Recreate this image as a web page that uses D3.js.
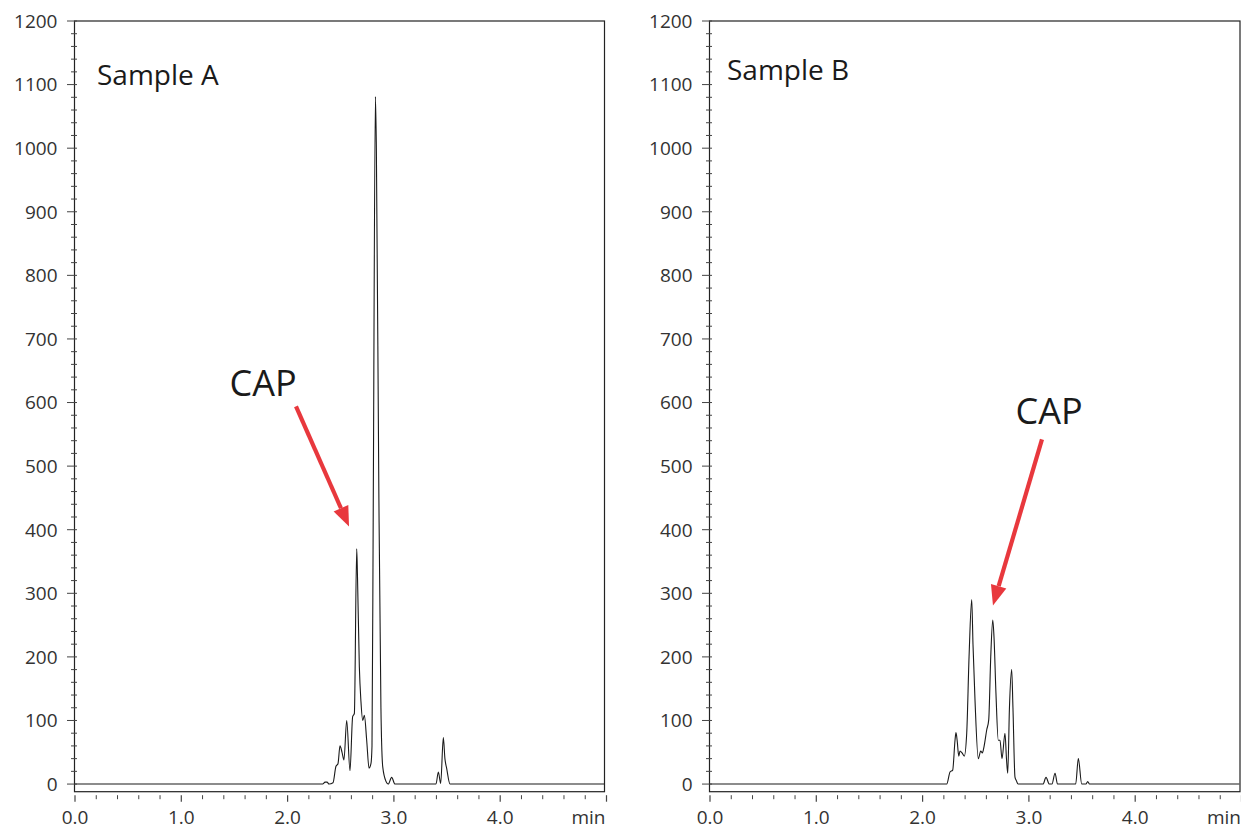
<!DOCTYPE html>
<html><head><meta charset="utf-8">
<script src="https://cdn.jsdelivr.net/npm/d3@7"></script>
<style>body{margin:0;background:#fff}svg{display:block}</style>
</head><body>
<svg id="c" width="1241" height="829"></svg>
<script>
// ---- data ----
const yTicks = [0,100,200,300,400,500,600,700,800,900,1000,1100,1200];
const xTicks = [0,1,2,3,4];
const xTickLabels = ["0.0","1.0","2.0","3.0","4.0"];
const xUnit = "min";

const sampleA_t = [0,2.33,2.352,2.371,2.39,2.427,2.455,2.474,2.493,2.512,2.53,2.556,2.587,2.612,2.628,2.65,2.657,2.675,2.69,2.707,2.722,2.744,2.766,2.784,2.794,2.806,2.826,2.835,2.859,2.878,2.895,2.926,2.947,2.979,3.01,3.396,3.418,3.44,3.465,3.48,3.496,3.528,4.98];
const sampleA_v = [0,0,3,3,0,2,28,32,60,50,38,100,21,106,111,370,330,184,130,100,108,69,25,32,60,446,1081,1000,446,120,27,4,0,10.5,0,0,19,1,73,40,25,0,0];

const sampleB_t = [0,2.227,2.258,2.283,2.305,2.314,2.326,2.34,2.352,2.371,2.392,2.415,2.437,2.462,2.474,2.493,2.524,2.547,2.562,2.578,2.603,2.622,2.641,2.66,2.672,2.69,2.712,2.728,2.747,2.775,2.789,2.801,2.817,2.838,2.85,2.869,2.883,2.898,3.133,3.161,3.192,3.217,3.246,3.269,3.44,3.465,3.497,3.537,3.553,3.57,4.98];
const sampleB_v = [0,0,19,22,69,81,67,44,52,49,44,80,200,290,220,132,40,52,49,59,85,101,200,258,230,143,69,69,40,80,40,17,120,180,120,11,5,0,0,10.5,0,0,17,0,0,40,0,0,4,0,0];

const panelNames = ["Sample A","Sample B"];
const capLabel = "CAP";
// annotation anchors in data units [t, value]
const capTextPos = [[1.769,630],[3.19,586]];
const arrowTail = [[2.079,594],[3.123,542]];
const arrowTip  = [[2.578,405],[2.662,281]];
const nameTextPos = [[0.207,1100],[0.16,1108]];

// ---- drawing ----
const svg = d3.select("#c");
const font = "'Open Sans', 'Noto Sans', sans-serif";
const plotTop = 21, plotBottom = 791.7;
const y = d3.scaleLinear().domain([-12,1200]).range([plotBottom, plotTop]);
const panels = [
  {x0:75, left:74.5, right:604.5, t:sampleA_t, v:sampleA_v},
  {x0:710, left:709.5, right:1240, t:sampleB_t, v:sampleB_v}
];
const red = "#e8383d";

panels.forEach((p,i)=>{
  const x = d3.scaleLinear().domain([0,5]).range([p.x0, p.x0+531.5]);
  const g = svg.append("g");
  const clipId = "clip"+i;
  svg.append("clipPath").attr("id",clipId).append("rect")
    .attr("x",p.left).attr("y",plotTop).attr("width",p.right-p.left).attr("height",plotBottom-plotTop);

  // trace
  const data = p.t.map((t,k)=>[t,p.v[k]]);
  g.append("path").datum(data)
    .attr("clip-path",`url(#${clipId})`)
    .attr("fill","none").attr("stroke","#1a1a1a").attr("stroke-width",1.1)
    .attr("d", d3.line().x(d=>x(d[0])).y(d=>y(d[1])).curve(d3.curveMonotoneX));

  // box
  g.append("rect").attr("x",p.left).attr("y",plotTop).attr("width",p.right-p.left).attr("height",plotBottom-plotTop)
    .attr("fill","none").attr("stroke","#222").attr("stroke-width",1.2);

  // y ticks
  const minorY = d3.range(0,1201,20).filter(v=>v%100!==0);
  g.selectAll(".ymin").data(minorY).enter().append("line")
    .attr("x1",p.left-3.5).attr("x2",p.left+2.5)
    .attr("y1",d=>y(d)).attr("y2",d=>y(d)).attr("stroke","#444").attr("stroke-width",1);
  g.selectAll(".ymaj").data(yTicks).enter().append("line")
    .attr("x1",p.left-7.5).attr("x2",p.left+2.5)
    .attr("y1",d=>y(d)).attr("y2",d=>y(d)).attr("stroke","#444").attr("stroke-width",1);
  g.selectAll(".ylab").data(yTicks).enter().append("text")
    .attr("x",p.left-17).attr("y",d=>y(d)).attr("dy","0.36em")
    .attr("text-anchor","end").attr("font-family",font).attr("font-size",19).attr("fill","#333")
    .text(d=>d);

  // x ticks
  const minorX = d3.range(0,5.01,0.2).map(v=>+v.toFixed(1)).filter(v=>Math.abs(v-Math.round(v))>1e-6);
  g.selectAll(".xmin").data(minorX).enter().append("line")
    .attr("x1",d=>x(d)).attr("x2",d=>x(d)).attr("y1",plotBottom+3.5).attr("y2",plotBottom+7.5)
    .attr("stroke","#444").attr("stroke-width",1);
  g.selectAll(".xmaj").data([0,1,2,3,4,5]).enter().append("line")
    .attr("x1",d=>x(d)).attr("x2",d=>x(d)).attr("y1",plotBottom+3.5).attr("y2",plotBottom+10)
    .attr("stroke","#444").attr("stroke-width",1.2);
  g.selectAll(".xlab").data(xTicks).enter().append("text")
    .attr("x",d=>x(d)).attr("y",823.5)
    .attr("text-anchor","middle").attr("font-family",font).attr("font-size",19).attr("fill","#333")
    .text((d,k)=>xTickLabels[k]);
  g.append("text").attr("x",p.right-16).attr("y",823.5).attr("text-anchor","middle")
    .attr("font-family",font).attr("font-size",19).attr("fill","#333").text(xUnit);

  // panel name
  g.append("text").attr("x",x(nameTextPos[i][0])).attr("y",y(nameTextPos[i][1]))
    .attr("font-family",font).attr("font-size",28).attr("fill","#1a1a1a").text(panelNames[i]);

  // CAP label
  g.append("text").attr("x",x(capTextPos[i][0])).attr("y",y(capTextPos[i][1])).attr("dy","0.36em")
    .attr("text-anchor","middle").attr("font-family",font).attr("font-size",36).attr("fill","#1a1a1a").text(capLabel);

  // arrow
  const x1 = x(arrowTail[i][0]), y1 = y(arrowTail[i][1]);
  const x2 = x(arrowTip[i][0]), y2 = y(arrowTip[i][1]);
  const ang = Math.atan2(y2-y1, x2-x1);
  const hl = 20, hw = 8;
  const bx = x2 - hl*Math.cos(ang), by = y2 - hl*Math.sin(ang);
  g.append("line").attr("x1",x1).attr("y1",y1).attr("x2",bx).attr("y2",by)
    .attr("stroke",red).attr("stroke-width",4.2);
  g.append("path").attr("fill",red)
    .attr("d",`M${x2},${y2}L${bx - hw*Math.sin(ang)},${by + hw*Math.cos(ang)}L${bx + hw*Math.sin(ang)},${by - hw*Math.cos(ang)}Z`);
});
</script>
</body></html>
